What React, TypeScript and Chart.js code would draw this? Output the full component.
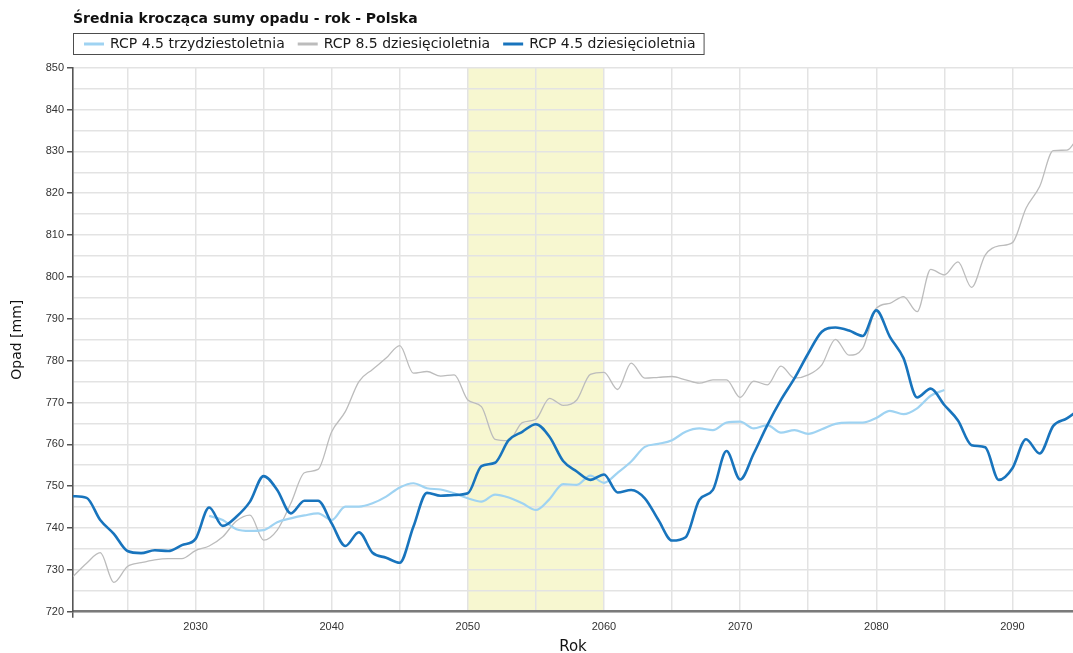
import React, { useEffect, useRef } from 'react';
import { Chart, registerables } from 'chart.js';

Chart.register(...registerables);

const chartTitle = 'Średnia krocząca sumy opadu - rok - Polska';
const xAxisTitle = 'Rok';
const yAxisTitle = 'Opad [mm]';

const years = [
  2021, 2022, 2023, 2024, 2025, 2026, 2027, 2028, 2029, 2030,
  2031, 2032, 2033, 2034, 2035, 2036, 2037, 2038, 2039, 2040,
  2041, 2042, 2043, 2044, 2045, 2046, 2047, 2048, 2049, 2050,
  2051, 2052, 2053, 2054, 2055, 2056, 2057, 2058, 2059, 2060,
  2061, 2062, 2063, 2064, 2065, 2066, 2067, 2068, 2069, 2070,
  2071, 2072, 2073, 2074, 2075, 2076, 2077, 2078, 2079, 2080,
  2081, 2082, 2083, 2084, 2085, 2086, 2087, 2088, 2089, 2090,
  2091, 2092, 2093, 2094, 2095,
];

const rcp45DecadeValues = [
  747.6, 747.2, 741.9, 738.6, 734.5, 734.0, 734.7, 734.5, 735.9, 737.4,
  744.9, 740.5, 742.7, 746.3, 752.4, 749.1, 743.5, 746.5, 746.5, 741.1,
  735.7, 739.0, 734.1, 732.9, 731.7, 740.3, 748.4, 747.7, 747.9, 748.3,
  754.8, 755.6, 761.0, 763.0, 764.8, 761.8, 756.0, 753.5, 751.5, 752.8,
  748.5, 749.1, 747.1, 741.9, 737.0, 737.8, 746.7, 749.1, 758.4, 751.6,
  757.8, 764.6, 770.6, 775.8, 781.7, 786.9, 787.9, 787.2, 785.9, 792.0,
  785.7, 780.6, 771.2, 773.3, 769.4, 765.7, 759.8, 759.3, 751.5, 754.3,
  761.2, 757.8, 764.4, 766.2, 768.6,
];

const rcp85DecadeValues = [
  728.4, 731.6, 734.1, 727.0, 730.8, 731.7, 732.4, 732.7, 732.7, 734.6,
  735.7, 737.9, 741.7, 743.1, 737.1, 739.5, 745.9, 753.2, 754.0, 763.0,
  767.8, 775.0, 777.9, 780.6, 783.6, 777.0, 777.4, 776.3, 776.6, 770.6,
  769.0, 761.2, 760.9, 765.2, 766.0, 771.0, 769.3, 770.6, 776.7, 777.2,
  773.1, 779.4, 775.8, 776.0, 776.2, 775.4, 774.6, 775.4, 775.4, 771.2,
  775.1, 774.2, 778.7, 775.8, 776.6, 779.0, 785.1, 781.3, 782.9, 792.5,
  793.7, 795.3, 791.7, 801.8, 800.5, 803.6, 797.5, 805.2, 807.4, 808.2,
  816.4, 821.6, 830.2, 830.3, 834.5,
];

const rcp45ThirtyYears = [
  2031, 2032, 2033, 2034, 2035, 2036, 2037, 2038, 2039, 2040,
  2041, 2042, 2043, 2044, 2045, 2046, 2047, 2048, 2049, 2050,
  2051, 2052, 2053, 2054, 2055, 2056, 2057, 2058, 2059, 2060,
  2061, 2062, 2063, 2064, 2065, 2066, 2067, 2068, 2069, 2070,
  2071, 2072, 2073, 2074, 2075, 2076, 2077, 2078, 2079, 2080,
  2081, 2082, 2083, 2084, 2085,
];

const rcp45ThirtyValues = [
  742.9, 741.9, 739.7, 739.3, 739.5, 741.4, 742.3, 743.0, 743.5, 741.9,
  745.1, 745.1, 745.9, 747.5, 749.7, 750.7, 749.5, 749.2, 748.3, 747.1,
  746.3, 748.0, 747.3, 745.9, 744.3, 746.9, 750.5, 750.3, 752.5, 750.8,
  753.2, 755.9, 759.4, 760.1, 761.0, 763.0, 763.8, 763.4, 765.2, 765.4,
  763.8, 764.6, 762.8, 763.4, 762.5, 763.6, 764.9, 765.2, 765.2, 766.3,
  768.0, 767.2, 768.6, 771.6, 773.0,
];

const seriesLabels = [
  'RCP 4.5 trzydziestoletnia',
  'RCP 8.5 dziesięcioletnia',
  'RCP 4.5 dziesięcioletnia',
];

const highlightRange = [2050, 2060];
const xRange = [2021, 2094.45];
const xGridYears = [2021, 2025, 2030, 2035, 2040, 2045, 2050, 2055, 2060, 2065, 2070, 2075, 2080, 2085, 2090];
const yRange = [720, 850];

const toPoints = (xs: number[], ys: number[]) => xs.map((x, i) => ({ x, y: ys[i] }));

const bandPlugin = {
  id: 'highlightBand',
  beforeDraw(chart: any) {
    const { ctx, chartArea, scales } = chart;
    const x0 = scales.x.getPixelForValue(highlightRange[0]);
    const x1 = scales.x.getPixelForValue(highlightRange[1]);
    ctx.save();
    ctx.fillStyle = '#f7f7d0';
    ctx.fillRect(x0, chartArea.top, x1 - x0, chartArea.bottom - chartArea.top);
    ctx.restore();
  },
};

const boxLegendPlugin = {
  id: 'boxLegend',
  afterDraw(chart: any) {
    const { ctx, chartArea } = chart;
    const left = chartArea.left;
    const top = 33;
    const h = 21;
    const midY = top + h / 2 + 0.5;
    ctx.save();
    ctx.font = '14px "DejaVu Sans"';
    ctx.textBaseline = 'middle';
    ctx.textAlign = 'left';
    let x = left + 11;
    chart.data.datasets.forEach((ds: any) => {
      ctx.strokeStyle = ds.borderColor;
      ctx.lineWidth = 3;
      ctx.beginPath();
      ctx.moveTo(x, midY);
      ctx.lineTo(x + 20, midY);
      ctx.stroke();
      ctx.fillStyle = '#1a1a1a';
      ctx.fillText(ds.label, x + 26, midY);
      x += 26 + ctx.measureText(ds.label).width + 13;
    });
    const right = x - 13 + 8;
    ctx.strokeStyle = '#4d4d4d';
    ctx.lineWidth = 1;
    ctx.strokeRect(left + 0.5, top + 0.5, right - left, h);
    ctx.restore();
  },
};

export default function App() {
  const canvasRef = useRef<HTMLCanvasElement | null>(null);

  useEffect(() => {
    if (!canvasRef.current) return;
    const chart = new Chart(canvasRef.current, {
      type: 'line',
      data: {
        datasets: [
          {
            label: seriesLabels[0],
            data: toPoints(rcp45ThirtyYears, rcp45ThirtyValues),
            borderColor: '#9fd3f2',
            backgroundColor: '#9fd3f2',
            borderWidth: 2.2,
            pointRadius: 0,
            cubicInterpolationMode: 'monotone',
            order: 1,
          },
          {
            label: seriesLabels[1],
            data: toPoints(years, rcp85DecadeValues),
            borderColor: '#bcbcbc',
            backgroundColor: '#bcbcbc',
            borderWidth: 1.3,
            pointRadius: 0,
            cubicInterpolationMode: 'monotone',
            order: 2,
          },
          {
            label: seriesLabels[2],
            data: toPoints(years, rcp45DecadeValues),
            borderColor: '#1874bd',
            backgroundColor: '#1874bd',
            borderWidth: 2.6,
            pointRadius: 0,
            cubicInterpolationMode: 'monotone',
            order: 0,
          },
        ],
      },
      options: {
        animation: false,
        responsive: true,
        maintainAspectRatio: false,
        events: [],
        layout: { padding: 0 },
        plugins: {
          legend: { display: false },
          tooltip: { enabled: false },
          title: {
            display: true,
            text: chartTitle,
            align: 'start',
            fullSize: false,
            color: '#111',
            font: { family: 'DejaVu Sans', size: 14, weight: 'bold', lineHeight: 1.2 },
            padding: { top: 10.6, bottom: 40.3 },
          },
        },
        scales: {
          x: {
            type: 'linear',
            min: xRange[0],
            max: xRange[1],
            afterBuildTicks: (scale: any) => {
              scale.ticks = xGridYears.map((v) => ({ value: v }));
            },
            afterFit: (scale: any) => {
              scale.height = 41.3;
            },
            ticks: {
              autoSkip: false,
              maxRotation: 0,
              minRotation: 0,
              padding: 3,
              color: '#333',
              font: { family: 'Liberation Sans', size: 11 },
              callback: (v: any) => (Number(v) % 10 === 0 ? String(v) : ''),
            },
            grid: {
              color: (c: any) => (c.tick && c.tick.value === xRange[0] ? 'rgba(0,0,0,0)' : '#e3e3e3'),
              lineWidth: 1.5,
              tickLength: 6,
              tickColor: (c: any) => (c.tick && c.tick.value === xRange[0] ? '#555' : 'rgba(0,0,0,0)'),
              tickWidth: 1.5,
            },
            border: { color: '#7a7a7a', width: 2.5 },
            title: {
              display: true,
              text: xAxisTitle,
              color: '#111',
              font: { family: 'DejaVu Sans', size: 15, lineHeight: 1 },
              padding: { top: 0, bottom: -1.5 },
            },
          },
          y: {
            type: 'linear',
            min: yRange[0],
            max: yRange[1],
            afterFit: (scale: any) => {
              scale.width = 73;
            },
            ticks: {
              stepSize: 5,
              autoSkip: false,
              padding: 3,
              color: '#333',
              font: { family: 'Liberation Sans', size: 11 },
              callback: (v: any) => (Number(v) % 10 === 0 ? String(v) : ''),
            },
            grid: {
              color: '#e3e3e3',
              lineWidth: 1.5,
              tickLength: 6,
              tickColor: (c: any) => (c.tick && c.tick.value % 10 === 0 ? '#555' : 'rgba(0,0,0,0)'),
              tickWidth: 1.5,
            },
            border: { color: '#555', width: 1.6 },
            title: {
              display: true,
              text: yAxisTitle,
              color: '#111',
              font: { family: 'DejaVu Sans', size: 14, lineHeight: 1.2 },
              padding: { top: 8.6, bottom: 0 },
            },
          },
        },
      } as any,
      plugins: [bandPlugin, boxLegendPlugin],
    });
    return () => chart.destroy();
  }, []);

  return (
    <div style={{ position: 'fixed', left: 0, top: 0, width: 1073, height: 653, background: '#fff' }}>
      <canvas ref={canvasRef} />
    </div>
  );
}
